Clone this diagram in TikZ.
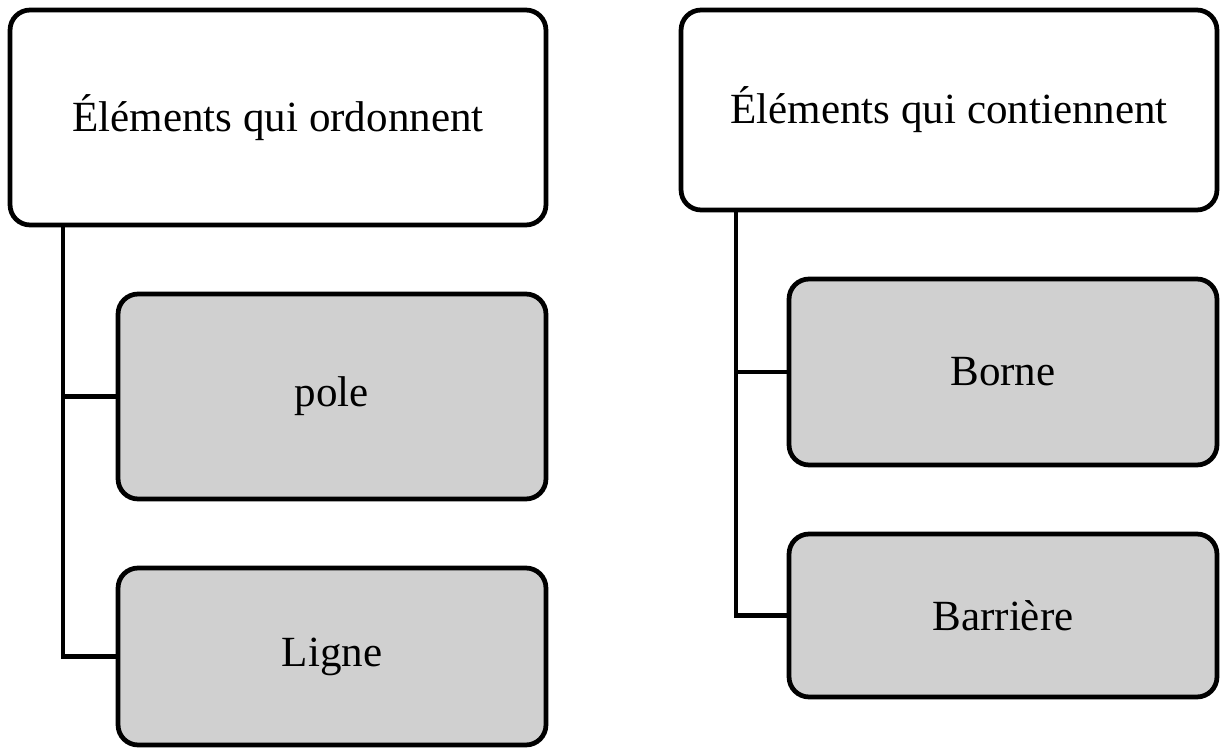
\documentclass[tikz,border=0pt]{standalone}
\usepackage{fontspec}
\setmainfont{Liberation Serif}
\usepackage{tikz}
\usetikzlibrary{positioning}

\definecolor{boxgray}{HTML}{D0D0D0}

\begin{document}
\begin{tikzpicture}[
			x=0.02cm, y=-0.02cm,
			every node/.style={
					draw,
					line width=2.7pt,
					rounded corners=0.4cm,
					align=center,
					font=\fontsize{24.5pt}{29pt}\selectfont
				},
			headbox/.style={fill=white},
			itembox/.style={fill=boxgray, minimum width=8.56cm},
			link/.style={line width=2.7pt}
		]

		\useasboundingbox (0,0) rectangle (1220,749);

		% left group
		\node (ordo) [headbox, minimum width=10.72cm, minimum height=4.3cm]
		at (278,117.5) {Éléments qui ordonnent};

		\node (pole) [itembox, minimum height=4.1cm]
		at (332,396.5) {pole};

		\node (ligne) [itembox, minimum height=3.54cm]
		at (332,656.5) {Ligne};

		% right group
		\node (cont) [headbox, minimum width=10.72cm, minimum height=4cm]
		at (949,110) {Éléments qui contiennent};

		\node (borne) [itembox, minimum height=3.72cm]
		at (1003,372) {Borne};

		\node (barr) [itembox, minimum height=3.26cm]
		at (1003,615.5) {Barrière};

		\coordinate (lspine) at (63,0);
		\coordinate (rspine) at (736,0);

		\draw[link] (lspine |- ordo.south) -- (lspine |- ligne.west) -- (ligne.west);
		\draw[link] (lspine |- pole.west) -- (pole.west);
		\draw[link] (rspine |- cont.south) -- (rspine |- barr.west) -- (barr.west);
		\draw[link] (rspine |- borne.west) -- (borne.west);

	\end{tikzpicture}
\end{document}
